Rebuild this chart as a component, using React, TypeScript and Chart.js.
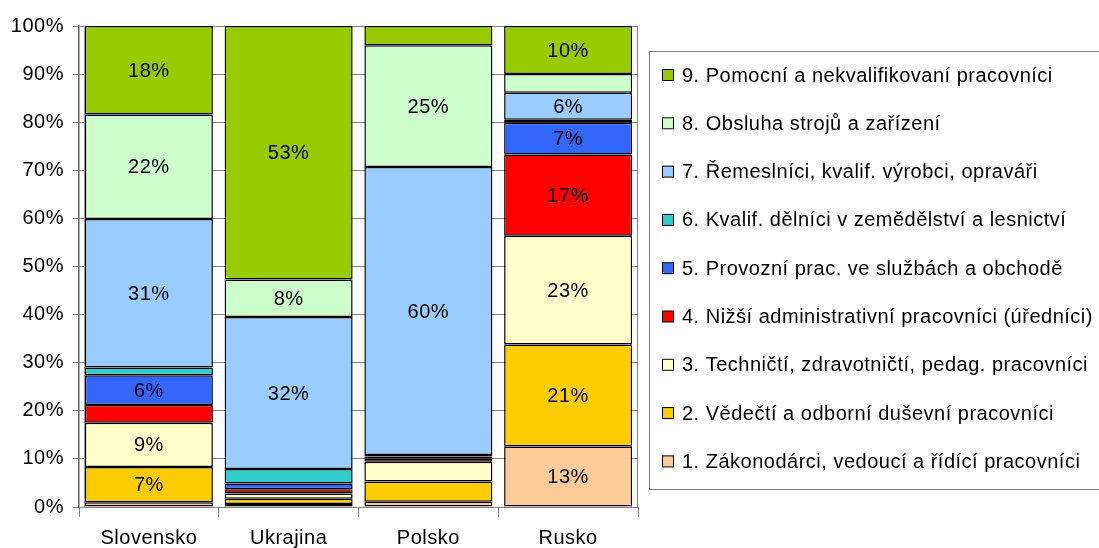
import React, { useEffect, useRef } from "react";
import { Chart, registerables } from "chart.js";

Chart.register(...registerables);

const categories = ["Slovensko", "Ukrajina", "Polsko", "Rusko"];

const seriesNames = [
  "1. Zákonodárci, vedoucí a řídící pracovníci",
  "2. Vědečtí a odborní duševní pracovníci",
  "3. Techničtí, zdravotničtí, pedag. pracovníci",
  "4. Nižší administrativní pracovníci (úředníci)",
  "5. Provozní prac. ve službách a obchodě",
  "6. Kvalif. dělníci v zemědělství a lesnictví",
  "7. Řemeslníci, kvalif. výrobci, opraváři",
  "8. Obsluha strojů a zařízení",
  "9. Pomocní a nekvalifikovaní pracovníci",
];

const s1 = [1.0, 0.6, 1.1, 12.6];
const s2 = [7.3, 1.1, 4.2, 21.2];
const s3 = [9.2, 1.1, 4.1, 22.6];
const s4 = [3.7, 0.9, 0.7, 16.9];
const s5 = [6.2, 1.2, 0.4, 6.6];
const s6 = [1.6, 3.0, 0.3, 0.6];
const s7 = [30.9, 31.6, 59.9, 5.6];
const s8 = [21.7, 7.8, 25.3, 3.9];
const s9 = [18.4, 52.7, 4.0, 10.0];

const seriesValues = [s1, s2, s3, s4, s5, s6, s7, s8, s9];

const seriesColors = [
  "#FFCC99",
  "#FFCC00",
  "#FFFFCC",
  "#FF0000",
  "#3366FF",
  "#33CCCC",
  "#99CCFF",
  "#CCFFCC",
  "#99CC00",
];

const yTicks = [0, 10, 20, 30, 40, 50, 60, 70, 80, 90, 100];

const FONT = "'Liberation Sans', Arial, sans-serif";
const FSIZE = 20;
const SPACING = "0.5px";

const spacingPlugin = {
  id: "spacing",
  beforeLayout(chart: any) {
    chart.ctx.letterSpacing = SPACING;
  },
  beforeDraw(chart: any) {
    chart.ctx.letterSpacing = SPACING;
  },
};

const framePlugin = {
  id: "frame",
  beforeDatasetsDraw(chart: any) {
    const { ctx, chartArea } = chart;
    ctx.save();
    ctx.strokeStyle = "#9a9a9a";
    ctx.lineWidth = 1;
    ctx.beginPath();
    ctx.moveTo(Math.round(chartArea.left) + 5.5, chartArea.top);
    ctx.lineTo(Math.round(chartArea.left) + 5.5, chartArea.bottom);
    ctx.stroke();
    ctx.strokeStyle = "#808080";
    ctx.beginPath();
    ctx.moveTo(Math.round(chartArea.right) - 0.5, chartArea.top);
    ctx.lineTo(Math.round(chartArea.right) - 0.5, chartArea.bottom);
    ctx.stroke();
    ctx.restore();
  },
};

const labelPlugin = {
  id: "segLabels",
  afterDatasetsDraw(chart: any) {
    const { ctx } = chart;
    ctx.save();
    ctx.fillStyle = "#000";
    ctx.font = `${FSIZE}px ${FONT}`;
    ctx.letterSpacing = SPACING;
    ctx.textAlign = "center";
    ctx.textBaseline = "middle";
    chart.data.datasets.forEach((ds: any, di: number) => {
      const meta = chart.getDatasetMeta(di);
      meta.data.forEach((el: any, i: number) => {
        const v = ds.data[i];
        if (v >= 5) {
          const y = (el.y + el.base) / 2;
          ctx.fillText(Math.round(v) + "%", el.x, y + 1);
        }
      });
    });
    ctx.restore();
  },
};

const legendPlugin = {
  id: "boxLegend",
  afterDraw(chart: any) {
    const { ctx } = chart;
    const left = 649.5;
    const top = 51.5;
    const height = 438;
    ctx.save();
    ctx.strokeStyle = "#808080";
    ctx.lineWidth = 1;
    ctx.strokeRect(left, top, 470, height);
    ctx.font = `${FSIZE}px ${FONT}`;
    ctx.letterSpacing = SPACING;
    ctx.textBaseline = "middle";
    ctx.textAlign = "left";
    const n = chart.data.datasets.length;
    for (let k = 0; k < n; k++) {
      const ds = chart.data.datasets[n - 1 - k];
      const cy = 75 + k * 48.3;
      ctx.fillStyle = ds.backgroundColor;
      ctx.fillRect(662, cy - 5.5, 11, 11);
      ctx.strokeStyle = "#000";
      ctx.strokeRect(662.5, cy - 5.5, 11, 11);
      ctx.fillStyle = "#000";
      ctx.fillText(ds.label, 682, cy + 1);
    }
    ctx.restore();
  },
};

export default function App() {
  const ref = useRef<HTMLCanvasElement | null>(null);

  useEffect(() => {
    if (!ref.current) return;
    const chart = new Chart(ref.current, {
      type: "bar",
      data: {
        labels: categories,
        datasets: seriesValues.map((vals, i) => ({
          label: seriesNames[i],
          data: vals,
          backgroundColor: seriesColors[i],
          borderColor: "#000",
          borderWidth: 1.5,
          borderSkipped: false,
          barPercentage: 0.916,
          categoryPercentage: 1,
        })),
      },
      options: {
        responsive: false,
        animation: false,
        layout: { padding: { top: 26, right: 461, left: 0, bottom: 0 } },
        plugins: {
          legend: { display: false },
          tooltip: { enabled: false },
        },
        scales: {
          x: {
            stacked: true,
            afterFit: (s: any) => {
              s.height = 41;
            },
            grid: {
              display: true,
              drawOnChartArea: false,
              drawTicks: true,
              tickLength: 10,
              color: "#808080",
              offset: true,
            },
            border: { display: true, color: "#808080", width: 1 },
            ticks: {
              color: "#000",
              font: { size: FSIZE, family: FONT },
              padding: 9,
            },
          },
          y: {
            stacked: true,
            min: 0,
            max: 100,
            afterFit: (s: any) => {
              s.width = 79;
            },
            afterBuildTicks: (s: any) => {
              s.ticks = yTicks.map((v) => ({ value: v }));
            },
            grid: {
              color: "#808080",
              lineWidth: 1,
              tickLength: 6,
            },
            border: { display: true, color: "#606060", width: 1.5 },
            ticks: {
              color: "#000",
              font: { size: FSIZE, family: FONT },
              padding: 9,
              callback: (v: any) => v + "%",
            },
          },
        },
      },
      plugins: [spacingPlugin, framePlugin, labelPlugin, legendPlugin],
    });
    return () => chart.destroy();
  }, []);

  return (
    <div style={{ position: "fixed", left: 0, top: 0, width: 1099, height: 548, background: "#fff" }}>
      <canvas ref={ref} width={1099} height={548} />
    </div>
  );
}
